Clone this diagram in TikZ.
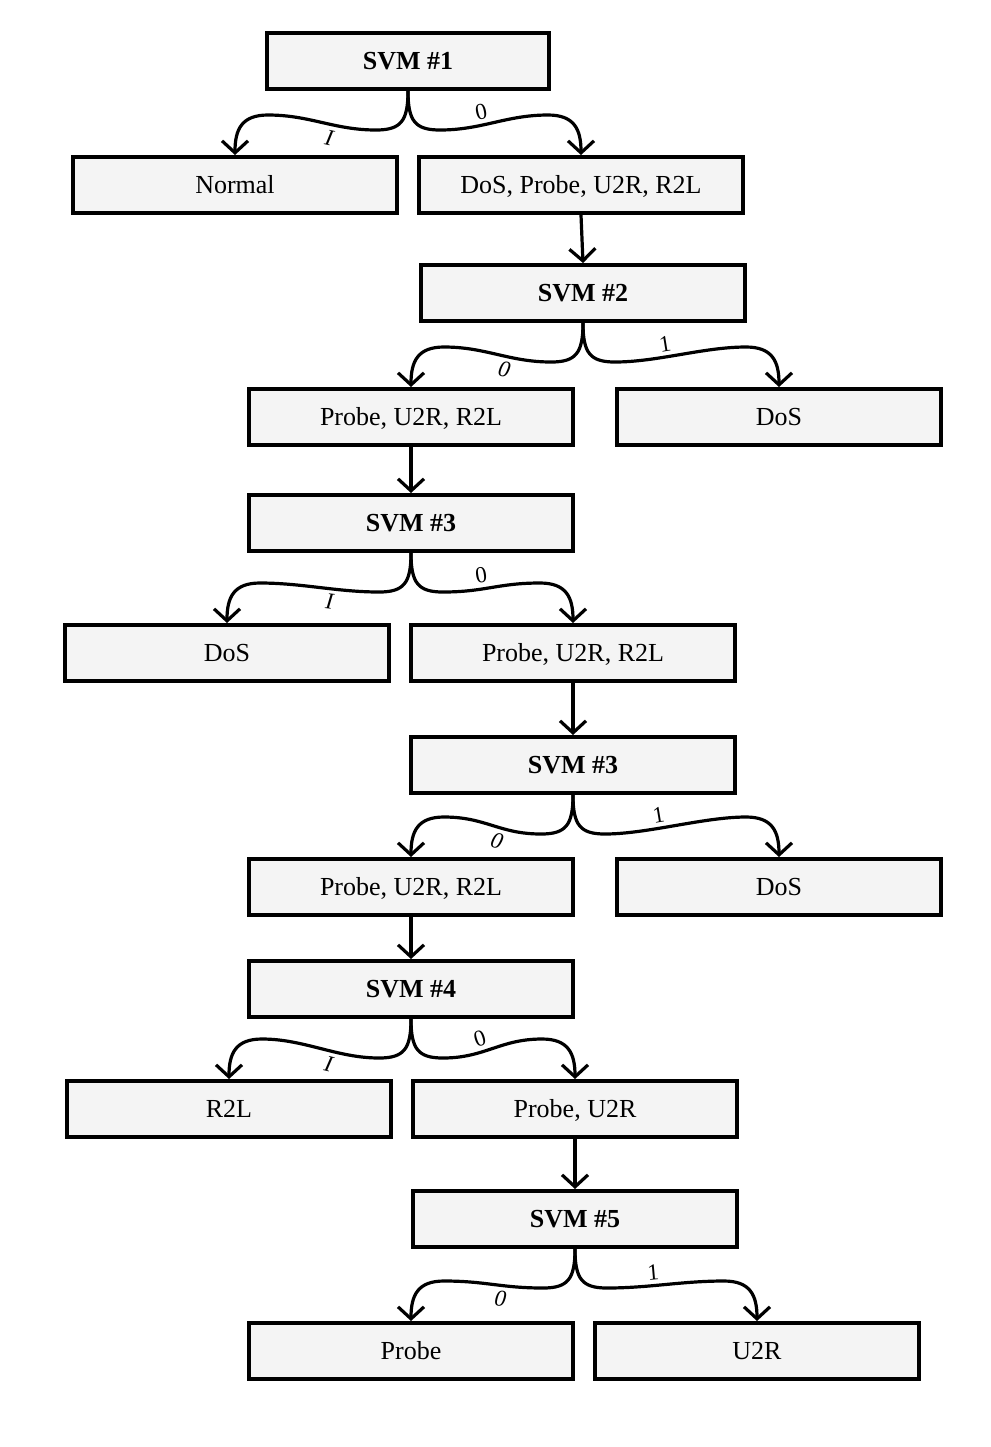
\documentclass[tikz,border=0pt]{standalone}
\usepackage{fontspec}
\setmainfont{Liberation Serif}
\usetikzlibrary{arrows.meta,calc}
\definecolor{boxfill}{RGB}{244,244,244}
\tikzset{
  box/.style={draw=black, line width=2pt, fill=boxfill, minimum width=162pt, minimum height=28pt,
    inner sep=0pt, text height=10.5pt, text depth=2.5pt, font=\fontsize{13}{15}\selectfont},
  svmbox/.style={box, font=\fontsize{13}{15}\selectfont\bfseries},
  conn/.style={draw=black, line width=1.6pt, -{Straight Barb[length=6pt,width=13pt]}},
  lbl/.style={font=\fontsize{11.5}{13}\selectfont, inner sep=2pt},
}
\newcommand{\brch}[5]{%
  \draw[conn] (#1.south) .. controls +(0,30) and +({-25*(#3)},0) .. ($(#1.south)+({32*(#3)},39)$)
    .. controls +({42*(#3)},0) and +({-42*(#3)},0) .. node[lbl,pos=0.4,sloped,#5]{#4} ($(#2.north)+({-33*(#3)},-40)$)
    .. controls +({26*(#3)},0) and +(0,-26) .. (#2.north);}
\begin{document}
\begin{tikzpicture}[x=0.5pt,y=-0.5pt]
\useasboundingbox (0,0) rectangle (991,1447);
\node[svmbox, minimum width=141pt] (s1) at (408,61) {SVM \#1};
\node[box] (n1) at (235,185) {Normal};
\node[box] (a1) at (581,185) {DoS, Probe, U2R, R2L};
\node[svmbox] (s2) at (583,293) {SVM \#2};
\node[box] (a2) at (411,417) {Probe, U2R, R2L};
\node[box] (d2) at (779,417) {DoS};
\node[svmbox] (s3) at (411,523) {SVM \#3};
\node[box] (d3) at (227,653) {DoS};
\node[box] (a3) at (573,653) {Probe, U2R, R2L};
\node[svmbox] (s3b) at (573,765) {SVM \#3};
\node[box] (a4) at (411,887) {Probe, U2R, R2L};
\node[box] (d4) at (779,887) {DoS};
\node[svmbox] (s4) at (411,989) {SVM \#4};
\node[box] (r5) at (229,1109) {R2L};
\node[box] (a5) at (575,1109) {Probe, U2R};
\node[svmbox] (s5) at (575,1219) {SVM \#5};
\node[box] (p6) at (411,1351) {Probe};
\node[box] (u6) at (757,1351) {U2R};

\brch{s1}{n1}{-1}{\itshape I}{below}
\brch{s1}{a1}{1}{0}{above}
\draw[conn] (a1.south) -- (s2.north);
\brch{s2}{a2}{-1}{\itshape 0}{below}
\brch{s2}{d2}{1}{1}{above}
\draw[conn] (a2.south) -- (s3.north);
\brch{s3}{d3}{-1}{\itshape I}{below}
\brch{s3}{a3}{1}{0}{above}
\draw[conn] (a3.south) -- (s3b.north);
\brch{s3b}{a4}{-1}{\itshape 0}{below}
\brch{s3b}{d4}{1}{1}{above}
\draw[conn] (a4.south) -- (s4.north);
\brch{s4}{r5}{-1}{\itshape I}{below}
\brch{s4}{a5}{1}{0}{above}
\draw[conn] (a5.south) -- (s5.north);
\brch{s5}{p6}{-1}{\itshape 0}{below}
\brch{s5}{u6}{1}{1}{above}
\end{tikzpicture}
\end{document}
